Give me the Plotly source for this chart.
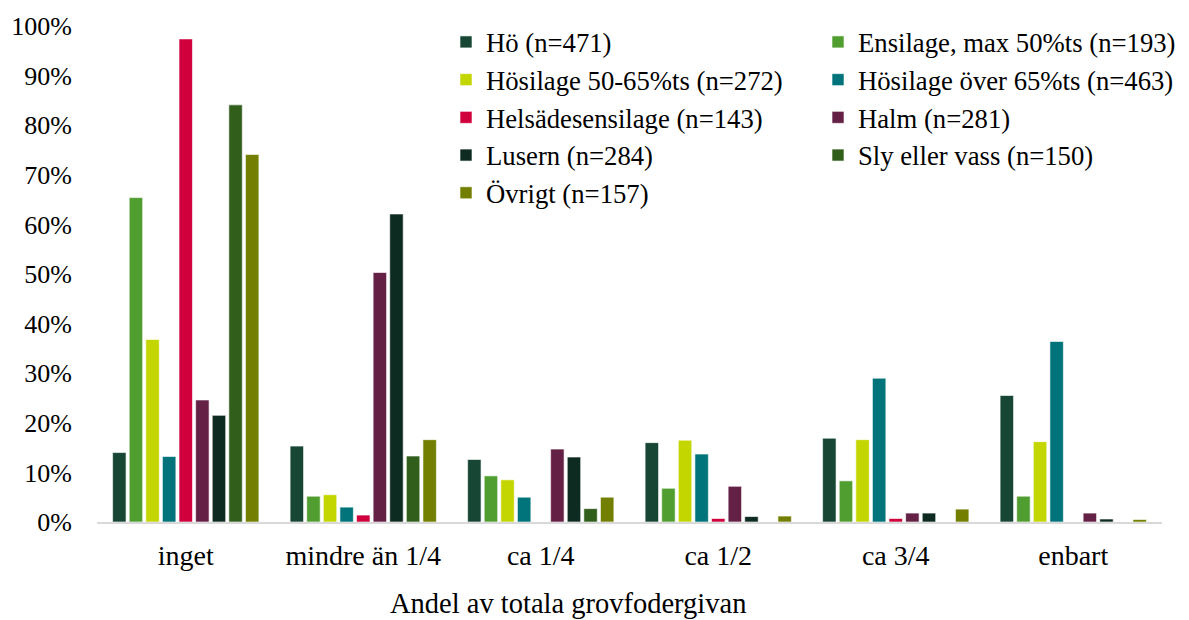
import plotly.graph_objects as go

categories = ["inget", "mindre än 1/4", "ca 1/4", "ca 1/2", "ca 3/4", "enbart"]

series_names = [
    "Hö (n=471)",
    "Ensilage, max 50%ts (n=193)",
    "Hösilage 50-65%ts (n=272)",
    "Hösilage över 65%ts (n=463)",
    "Helsädesensilage (n=143)",
    "Halm (n=281)",
    "Lusern (n=284)",
    "Sly eller vass (n=150)",
    "Övrigt (n=157)",
]

ho = [14.0, 15.3, 12.6, 16.0, 16.9, 25.5]
ensilage = [65.4, 5.2, 9.3, 6.8, 8.3, 5.2]
hosilage_50_65 = [36.8, 5.5, 8.5, 16.5, 16.6, 16.2]
hosilage_65 = [13.2, 3.0, 5.0, 13.7, 29.0, 36.4]
helsad = [97.4, 1.4, 0.0, 0.7, 0.7, 0.0]
halm = [24.6, 50.3, 14.7, 7.2, 1.8, 1.8]
lusern = [21.5, 62.1, 13.1, 1.1, 1.8, 0.6]
sly = [84.1, 13.3, 2.7, 0.0, 0.0, 0.0]
ovrigt = [74.1, 16.6, 5.0, 1.2, 2.6, 0.5]

x_title = "Andel av totala grovfodergivan"

series_values = [ho, ensilage, hosilage_50_65, hosilage_65, helsad, halm, lusern, sly, ovrigt]
colors = ["#174634", "#509E2F", "#C4D600", "#00747A", "#D0003C",
          "#652145", "#0D2B21", "#325E1C", "#737F00"]
legend_ids = ["legend", "legend2", "legend", "legend2", "legend",
              "legend2", "legend", "legend2", "legend"]

font_family = "Liberation Serif"

fig = go.Figure()
for i, (name, vals, col, lg) in enumerate(zip(series_names, series_values, colors, legend_ids)):
    fig.add_trace(go.Bar(
        x=categories, y=vals, name=name,
        marker=dict(color=col, line=dict(color="rgba(255,255,255,0.6)", width=1)),
        legend=lg, legendgroup="g%d" % i,
    ))

legend_common = dict(
    font=dict(family=font_family, size=26.7, color="#000000"),
    bgcolor="rgba(0,0,0,0)", traceorder="grouped", tracegroupgap=0,
    itemwidth=30, yanchor="top", xanchor="left",
)

# page body has an 8px default margin, so the figure is sized to fit the window
fig.update_layout(
    width=1181, height=612,
    margin=dict(l=89, r=27, t=18, b=98, autoexpand=False),
    paper_bgcolor="white", plot_bgcolor="white",
    barmode="group", bargap=0.158, bargroupgap=0.19,
    font=dict(family=font_family, size=26, color="#000000"),
    legend=dict(x=0.3277, y=1.016, **legend_common),
    legend2=dict(x=0.677, y=1.016, **legend_common),
    xaxis=dict(
        showgrid=False, showline=True, linecolor="#D9D9D9", linewidth=2,
        ticks="", ticklabelstandoff=7, automargin=False,
        tickfont=dict(family=font_family, size=28, color="#000000"),
    ),
    yaxis=dict(
        range=[0, 100], dtick=10, showgrid=False, showline=False, zeroline=False,
        ticksuffix="%", ticks="", ticklabelstandoff=24, automargin=False,
        tickfont=dict(family=font_family, size=26, color="#000000"),
    ),
    annotations=[dict(
        text=x_title, xref="paper", yref="paper", x=0.4423, y=-0.1653,
        xanchor="center", yanchor="middle", showarrow=False,
        font=dict(family=font_family, size=28.5, color="#000000"),
    )],
)

fig.write_html("out.html")
